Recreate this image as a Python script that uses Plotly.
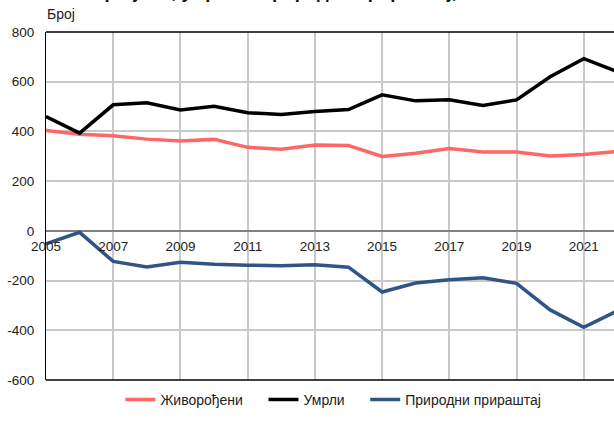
import plotly.graph_objects as go

years = list(range(2005, 2023))
live_births = [404, 389, 383, 369, 361, 368, 336, 328, 345, 343, 299, 312, 331, 317, 317, 301, 307, 320]
deaths = [460, 393, 507, 515, 486, 501, 475, 468, 480, 488, 547, 523, 527, 504, 527, 620, 693, 640]
natural_increase = [-52, -6, -123, -145, -126, -134, -138, -140, -136, -146, -246, -210, -197, -189, -211, -318, -388, -322]

series_names = ["Живорођени", "Умрли", "Природни прираштај"]
x_tick_vals = [2005, 2007, 2009, 2011, 2013, 2015, 2017, 2019, 2021]
x_tick_text = ["2005", "2007", "2009", "2011", "2013", "2015", "2017", "2019", "2021"]
y_tick_vals = [-600, -400, -200, 0, 200, 400, 600, 800]
y_tick_text = ["-600", "-400", "-200", "0", "200", "400", "600", "800"]
title_text = "Живорођени, умрли и природни прираштај, 2005–2022"
y_title = "Број"

colors = ["#FF6666", "#000000", "#2F5486"]
pad = "\u00a0" * 4
legend_labels = [series_names[0] + pad, series_names[1] + pad, series_names[2]]

fig = go.Figure()
for name, vals, col in zip(legend_labels, [live_births, deaths, natural_increase], colors):
    fig.add_trace(go.Scatter(x=years, y=vals, mode="lines", name=name,
                             line=dict(color=col, width=3.5)))

font = dict(family="Liberation Sans, Arial, sans-serif", size=13, color="#222222")

# plot area: 46..614 px horizontally, 32..380 px vertically
fig.update_layout(
    width=614, height=421,
    margin=dict(l=46, r=0, t=32, b=41),
    paper_bgcolor="white", plot_bgcolor="white",
    font=font,
    showlegend=True,
    legend=dict(orientation="h", x=0.506, xanchor="center", y=-0.0575, yanchor="middle",
                font=dict(size=14, color="#222222"), itemwidth=30),
    xaxis=dict(range=[2005, 2021.9], tickvals=x_tick_vals, ticktext=x_tick_text,
               anchor="free", position=600 / 1400, showline=False, zeroline=False,
               showgrid=True, gridcolor="#c8c8c8", gridwidth=1.5, ticks="",
               ticklabelstandoff=6, tickfont=dict(size=13.5)),
    yaxis=dict(range=[-600, 800], tickvals=y_tick_vals, ticktext=y_tick_text,
               showgrid=True, gridcolor="#c8c8c8", gridwidth=1.5,
               zeroline=True, zerolinecolor="#808080", zerolinewidth=1.5,
               showline=True, linecolor="black", linewidth=1.2,
               ticks="", ticklabelstandoff=8, tickfont=dict(size=13.5)),
)

for yv in [0, 1]:
    fig.add_shape(type="line", xref="paper", yref="paper", x0=0, x1=1, y0=yv, y1=yv,
                  line=dict(color="black", width=1.5))

fig.add_annotation(text=y_title, xref="paper", yref="paper", x=-0.002, y=(380 - 14) / 348,
                   xanchor="left", yanchor="middle", showarrow=False,
                   font=dict(size=14, color="#222222"))
fig.add_annotation(text="<b>" + title_text + "</b>", xref="paper", yref="paper",
                   x=(51 - 46) / 568, y=(380 - 4) / 348, xanchor="left", yanchor="bottom",
                   showarrow=False, font=dict(size=18.5, color="#111111"))

fig.write_html("out.html", config={"displayModeBar": False},
               post_script="document.body.style.margin='0px';")
